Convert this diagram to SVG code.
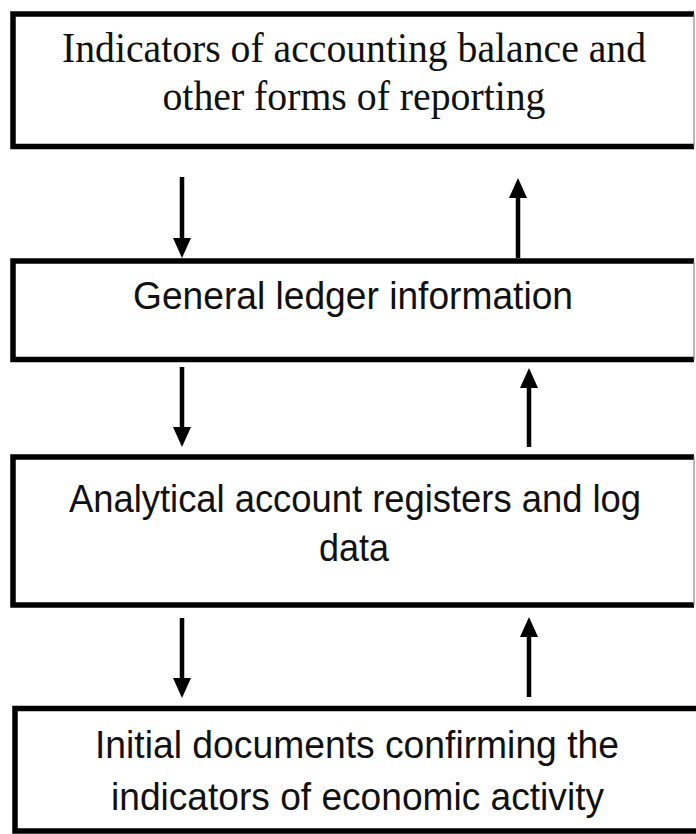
<svg xmlns="http://www.w3.org/2000/svg" width="696" height="834" viewBox="0 0 696 834">
<style>
.edge{fill:none;stroke:#000;stroke-width:5.5}
.rim{fill:none;stroke:#888;stroke-width:1.2}
.serif{font-family:"Liberation Serif","Times New Roman",serif;font-size:42px;fill:#111;text-anchor:middle}
.sans{font-family:"Liberation Sans",Arial,sans-serif;font-size:38px;fill:#111;text-anchor:middle}
.shaft{stroke:#000;stroke-width:4.5;fill:none}
.head{fill:#000}
</style>
<rect width="696" height="834" fill="#fff"/>
<g id="box1">
<path class="edge" d="M694,14 H13 V146.5 H694"/>
<line class="rim" x1="694" y1="14" x2="694" y2="146.5"/>
<text class="serif" x="354" y="62" textLength="584" lengthAdjust="spacingAndGlyphs">Indicators of accounting balance and</text>
<text class="serif" x="354" y="110" textLength="383" lengthAdjust="spacingAndGlyphs">other forms of reporting</text>
</g>
<g id="box2">
<path class="edge" d="M694,261 H13 V359.5 H694"/>
<line class="rim" x1="694" y1="261" x2="694" y2="359.5"/>
<text class="sans" x="353" y="309" textLength="440" lengthAdjust="spacingAndGlyphs">General ledger information</text>
</g>
<g id="box3">
<path class="edge" d="M694,457 H13 V605 H694"/>
<line class="rim" x1="694" y1="457" x2="694" y2="605"/>
<text class="sans" x="355" y="512" textLength="572" lengthAdjust="spacingAndGlyphs">Analytical account registers and log</text>
<text class="sans" x="354" y="561" textLength="70" lengthAdjust="spacingAndGlyphs">data</text>
</g>
<g id="box4">
<path class="edge" d="M696,708.5 H15 V831 H696"/>
<text class="sans" x="357" y="758" textLength="524" lengthAdjust="spacingAndGlyphs">Initial documents confirming the</text>
<text class="sans" x="357.5" y="810" textLength="493" lengthAdjust="spacingAndGlyphs">indicators of economic activity</text>
</g>
<g id="connectors">
<line class="shaft" x1="182" y1="177" x2="182" y2="242"/>
<polygon class="head" points="173,238 191,238 182,258"/>
<line class="shaft" x1="518" y1="258" x2="518" y2="194"/>
<polygon class="head" points="509,198 527,198 518,178"/>
<line class="shaft" x1="182" y1="367" x2="182" y2="431"/>
<polygon class="head" points="173,427 191,427 182,447"/>
<line class="shaft" x1="529" y1="447" x2="529" y2="384"/>
<polygon class="head" points="520,388 538,388 529,368"/>
<line class="shaft" x1="182" y1="618" x2="182" y2="682"/>
<polygon class="head" points="173,678 191,678 182,698"/>
<line class="shaft" x1="529" y1="697" x2="529" y2="633"/>
<polygon class="head" points="520,637 538,637 529,617"/>
</g>
</svg>
